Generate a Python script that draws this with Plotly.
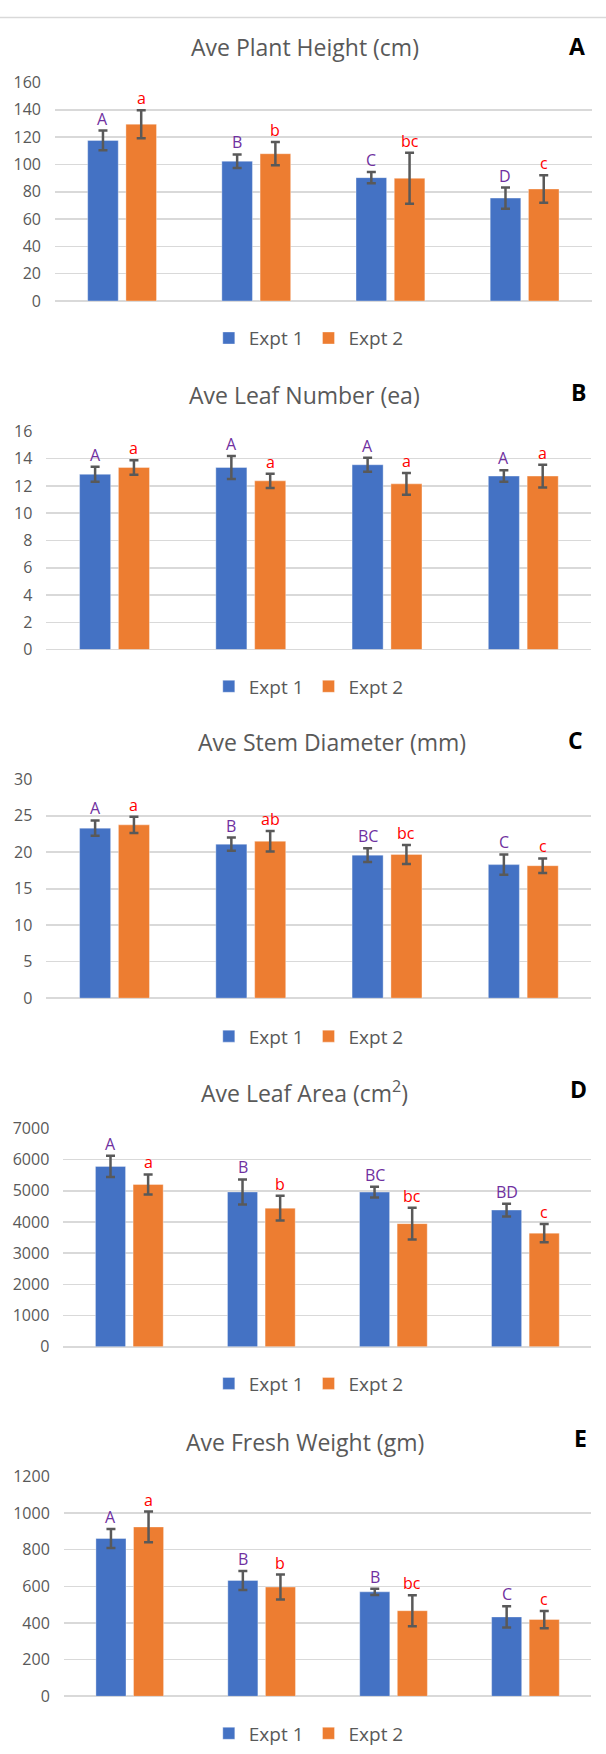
import plotly.graph_objects as go

# ---------------- data ----------------
categories = ["T1", "T2", "T3", "T4"]
series_names = ["Expt 1", "Expt 2"]

titles = ["Ave Plant Height (cm)", "Ave Leaf Number (ea)", "Ave Stem Diameter (mm)",
          "Ave Leaf Area (cm<sup>2</sup>)", "Ave Fresh Weight (gm)"]
panel_tags = ["A", "B", "C", "D", "E"]

height_e1 = [117.5, 102.3, 90.3, 75.3]
height_e1_err = [7.2, 5.0, 4.2, 7.7]
height_e2 = [129.4, 107.8, 89.8, 82.0]
height_e2_err = [10.3, 8.5, 18.7, 10.0]
height_let1 = ["A", "B", "C", "D"]
height_let2 = ["a", "b", "bc", "c"]

leafnum_e1 = [12.85, 13.35, 13.55, 12.72]
leafnum_e1_err = [0.55, 0.85, 0.52, 0.42]
leafnum_e2 = [13.35, 12.37, 12.15, 12.72]
leafnum_e2_err = [0.53, 0.53, 0.80, 0.83]
leafnum_let1 = ["A", "A", "A", "A"]
leafnum_let2 = ["a", "a", "a", "a"]

stem_e1 = [23.3, 21.1, 19.6, 18.3]
stem_e1_err = [1.05, 0.9, 0.93, 1.4]
stem_e2 = [23.75, 21.5, 19.7, 18.15]
stem_e2_err = [1.1, 1.4, 1.3, 1.0]
stem_let1 = ["A", "B", "BC", "C"]
stem_let2 = ["a", "ab", "bc", "c"]

area_e1 = [5780, 4960, 4955, 4380]
area_e1_err = [340, 400, 170, 205]
area_e2 = [5200, 4440, 3945, 3640]
area_e2_err = [320, 395, 510, 295]
area_let1 = ["A", "B", "BC", "BD"]
area_let2 = ["a", "b", "bc", "c"]

weight_e1 = [861, 632, 570, 433]
weight_e1_err = [52, 52, 17, 58]
weight_e2 = [924, 596, 467, 419]
weight_e2_err = [84, 68, 85, 47]
weight_let1 = ["A", "B", "B", "C"]
weight_let2 = ["a", "b", "bc", "c"]

y_max = [160, 16, 30, 7000, 1200]
y_dtick = [20, 2, 5, 1000, 200]

panel_data = [
    (height_e1, height_e1_err, height_e2, height_e2_err, height_let1, height_let2),
    (leafnum_e1, leafnum_e1_err, leafnum_e2, leafnum_e2_err, leafnum_let1, leafnum_let2),
    (stem_e1, stem_e1_err, stem_e2, stem_e2_err, stem_let1, stem_let2),
    (area_e1, area_e1_err, area_e2, area_e2_err, area_let1, area_let2),
    (weight_e1, weight_e1_err, weight_e2, weight_e2_err, weight_let1, weight_let2),
]

# ---------------- layout (page pixels) ----------------
W, H = 606, 1754
# x0, x1, y_top(grid max), y_zero, title_cx, title_cy, tag_cx, tag_cy, legend_cy
geom = [
    (55.0, 591.7, 72.3, 293.7, 305.0, 36.7, 577.0, 35.0, 331.3),
    (46.4, 591.4, 425.7, 646.7, 304.8, 389.3, 578.0, 386.0, 684.0),
    (46.4, 591.4, 778.0, 999.7, 332.4, 740.7, 575.0, 738.3, 1038.3),
    (63.3, 591.4, 1131.5, 1352.7, 304.7, 1095.0, 578.7, 1091.7, 1390.0),
    (63.8, 591.4, 1484.0, 1706.7, 304.7, 1449.0, 580.0, 1445.0, 1744.3),
]
legend_cx = 308.8

BLUE, ORANGE = "#4472C4", "#ED7D31"
GRID = "#D9D9D9"
TXT = "#595959"
PURPLE, RED = "#7030A0", "#FF0000"
FONT = "Open Sans"
BARGAP, BARGROUPGAP = 0.43, 0.2
slot_half = (1 - BARGAP) / 4.0


def fx(x):
    return x / W


def fy(y):
    return 1 - y / H


fig = go.Figure()
annotations = []
layout_upd = {}

for i, (e1, e1err, e2, e2err, let1, let2) in enumerate(panel_data):
    sfx = "" if i == 0 else str(i + 1)
    x0, x1, yt, yz, tcx, tcy, gcx, gcy, lcy = geom[i]
    xa, ya = "x" + sfx, "y" + sfx
    leg = "legend" + sfx
    for s, (vals, errs, col) in enumerate([(e1, e1err, BLUE), (e2, e2err, ORANGE)]):
        fig.add_trace(go.Bar(
            x=categories, y=vals, name=series_names[s],
            marker=dict(color=col, line=dict(color="rgba(255,255,255,0.35)", width=1)),
            error_y=dict(type="data", array=errs, visible=True, color=TXT,
                         thickness=2.5, width=4.5),
            xaxis=xa, yaxis=ya, legend=leg, offsetgroup=str(s),
            hoverinfo="skip",
        ))
    layout_upd["xaxis" + sfx] = dict(
        domain=[fx(x0), fx(x1)], anchor=ya, type="category",
        range=[-0.5, len(categories) - 0.5],
        showticklabels=False, showgrid=False, zeroline=False, showline=False, ticks="",
    )
    layout_upd["yaxis" + sfx] = dict(
        domain=[fy(yz), fy(yt)], anchor=xa, range=[0, y_max[i]], dtick=y_dtick[i],
        showgrid=True, gridcolor=GRID, gridwidth=1.6,
        zeroline=True, zerolinecolor=GRID, zerolinewidth=1.6,
        showline=False, ticks="", ticklabelstandoff=13,
        tickfont=dict(family=FONT, size=16, color=TXT),
    )
    layout_upd[leg] = dict(
        orientation="h", x=fx(legend_cx), xanchor="center", y=fy(lcy), yanchor="middle",
        font=dict(family=FONT, size=19, color=TXT), bgcolor="rgba(0,0,0,0)",
        itemclick=False, itemdoubleclick=False,
    )
    # title
    annotations.append(dict(
        text=titles[i], xref="paper", yref="paper", x=fx(tcx), y=fy(tcy),
        xanchor="center", yanchor="middle", showarrow=False,
        font=dict(family=FONT, size=23, color=TXT),
    ))
    # panel tag
    annotations.append(dict(
        text="<b>" + panel_tags[i] + "</b>", xref="paper", yref="paper", x=fx(gcx), y=fy(gcy),
        xanchor="center", yanchor="middle", showarrow=False,
        font=dict(family=FONT, size=23, color="#000000"),
    ))
    # significance letters
    for s, (vals, errs, lets, col) in enumerate([(e1, e1err, let1, PURPLE), (e2, e2err, let2, RED)]):
        off = -slot_half if s == 0 else slot_half
        for ci in range(len(categories)):
            annotations.append(dict(
                text=lets[ci], xref=xa, yref=ya, x=ci + off, y=vals[ci] + errs[ci],
                xanchor="center", yanchor="middle", yshift=12, showarrow=False,
                font=dict(family=FONT, size=16, color=col),
            ))

fig.update_layout(
    width=W, height=H, autosize=False,
    margin=dict(l=0, r=0, t=0, b=0),
    paper_bgcolor="white", plot_bgcolor="white",
    barmode="group", bargap=BARGAP, bargroupgap=BARGROUPGAP,
    annotations=annotations,
    shapes=[dict(type="line", xref="paper", yref="paper", x0=0, x1=1,
                 y0=fy(6.7), y1=fy(6.7), line=dict(color=GRID, width=1.5))],
    **layout_upd,
)

fig.write_html("out.html", config={"displayModeBar": False, "staticPlot": True},
               post_script="document.body.style.margin='0';document.body.style.overflow='hidden';")
